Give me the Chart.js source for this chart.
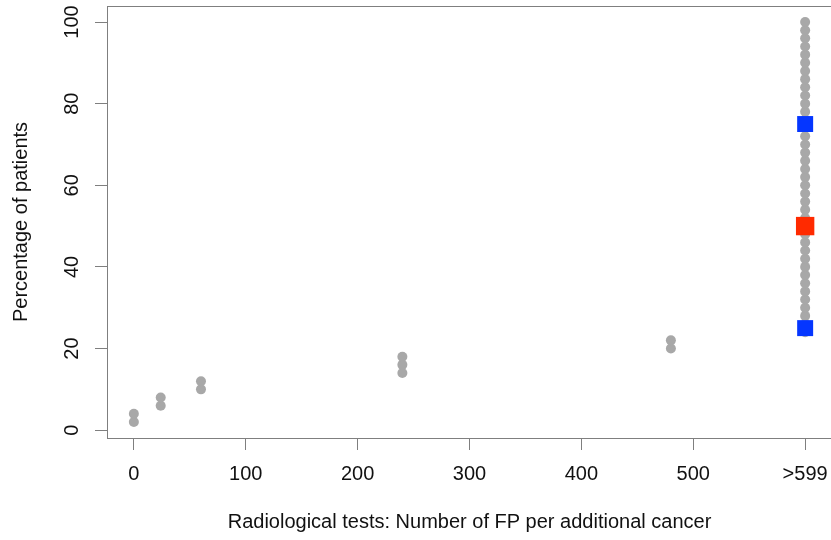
<!DOCTYPE html>
<html>
<head>
<meta charset="utf-8">
<title>Radiological tests</title>
<script src="https://cdn.jsdelivr.net/npm/chart.js@4"></script>
<style>
  html, body { margin: 0; padding: 0; background: #fff; overflow: hidden; }
  canvas { display: block; }
</style>
</head>
<body>
<canvas id="fpChart" width="840" height="540"></canvas>
<script>
// patients below 600 FP per additional cancer
const fpValues = [0, 0, 24, 24, 60, 60, 240, 240, 240, 480, 480];
const fpPercent = [2, 4, 6, 8, 10, 12, 14, 16, 18, 20, 22];

// everyone else sits in the ">599" column
const openEndX = 600;
const openEndPercent = [24, 26, 28, 30, 32, 34, 36, 38, 40, 42, 44, 46, 48, 50, 52,
  54, 56, 58, 60, 62, 64, 66, 68, 70, 72, 74, 76, 78, 80, 82, 84, 86, 88, 90, 92,
  94, 96, 98, 100];

// quartiles and median
const quartilePercent = [25, 75];
const medianPercent = [50];

const xTicks = [0, 100, 200, 300, 400, 500, 600];
const xTickLabels = ['0', '100', '200', '300', '400', '500', '>599'];
const yTicks = [0, 20, 40, 60, 80, 100];

const pts = (xs, ys) => ys.map((y, i) => ({ x: Array.isArray(xs) ? xs[i] : xs, y: y }));

const axisGray = '#7f7f7f';
const font = { family: "'Liberation Sans', Arial, sans-serif", size: 20 };

// R style box around the plotting region
const boxPlugin = {
  id: 'box',
  afterDraw(chart) {
    const a = chart.chartArea;
    const ctx = chart.ctx;
    ctx.save();
    ctx.strokeStyle = axisGray;
    ctx.lineWidth = 1;
    ctx.strokeRect(Math.round(a.left) + 0.5, Math.round(a.top) + 0.5,
      Math.round(a.right - a.left), Math.round(a.bottom - a.top));
    ctx.restore();
  }
};

new Chart(document.getElementById('fpChart'), {
  type: 'scatter',
  data: {
    datasets: [
      {
        label: 'median',
        data: pts(openEndX, medianPercent),
        pointStyle: 'rect',
        pointRadius: 13,
        backgroundColor: '#ff2a00',
        borderColor: '#ff2a00',
        borderWidth: 0,
        order: 0
      },
      {
        label: 'quartiles',
        data: pts(openEndX, quartilePercent),
        pointStyle: 'rect',
        pointRadius: 11.3,
        backgroundColor: '#0536ff',
        borderColor: '#0536ff',
        borderWidth: 0,
        order: 1
      },
      {
        label: 'patients',
        data: pts(fpValues, fpPercent).concat(pts(openEndX, openEndPercent)),
        pointRadius: 5,
        backgroundColor: '#a8a8a8',
        borderColor: '#a8a8a8',
        borderWidth: 0,
        order: 2
      }
    ]
  },
  options: {
    responsive: false,
    animation: false,
    layout: { autoPadding: false, padding: { left: 0, top: 6, right: 8, bottom: 0 } },
    plugins: { legend: { display: false }, tooltip: { enabled: false } },
    scales: {
      x: {
        type: 'linear',
        min: -24,
        max: 624,
        afterBuildTicks: s => { s.ticks = xTicks.map(v => ({ value: v })); },
        afterFit: s => { s.height = 102; s.paddingLeft = 0; s.paddingRight = 0; },
        grid: { drawOnChartArea: false, tickLength: 12, color: axisGray },
        border: { display: false },
        ticks: {
          font: font,
          color: '#111',
          padding: 12,
          maxRotation: 0,
          callback: v => xTickLabels[xTicks.indexOf(v)]
        },
        title: {
          display: true,
          text: 'Radiological tests: Number of FP per additional cancer',
          font: font,
          color: '#111',
          padding: { top: 0, bottom: 6 }
        }
      },
      y: {
        type: 'linear',
        min: -1.92,
        max: 103.92,
        afterBuildTicks: s => { s.ticks = yTicks.map(v => ({ value: v })); },
        afterFit: s => { s.width = 107; s.paddingTop = 0; s.paddingBottom = 0; },
        grid: { drawOnChartArea: false, tickLength: 12, color: axisGray },
        border: { display: false },
        ticks: {
          font: font,
          color: '#111',
          padding: 6,
          minRotation: 90,
          maxRotation: 90,
          crossAlign: 'center'
        },
        title: {
          display: true,
          text: 'Percentage of patients',
          font: font,
          color: '#111',
          padding: { top: 9, bottom: 0 }
        }
      }
    }
  },
  plugins: [boxPlugin]
});
</script>
</body>
</html>
